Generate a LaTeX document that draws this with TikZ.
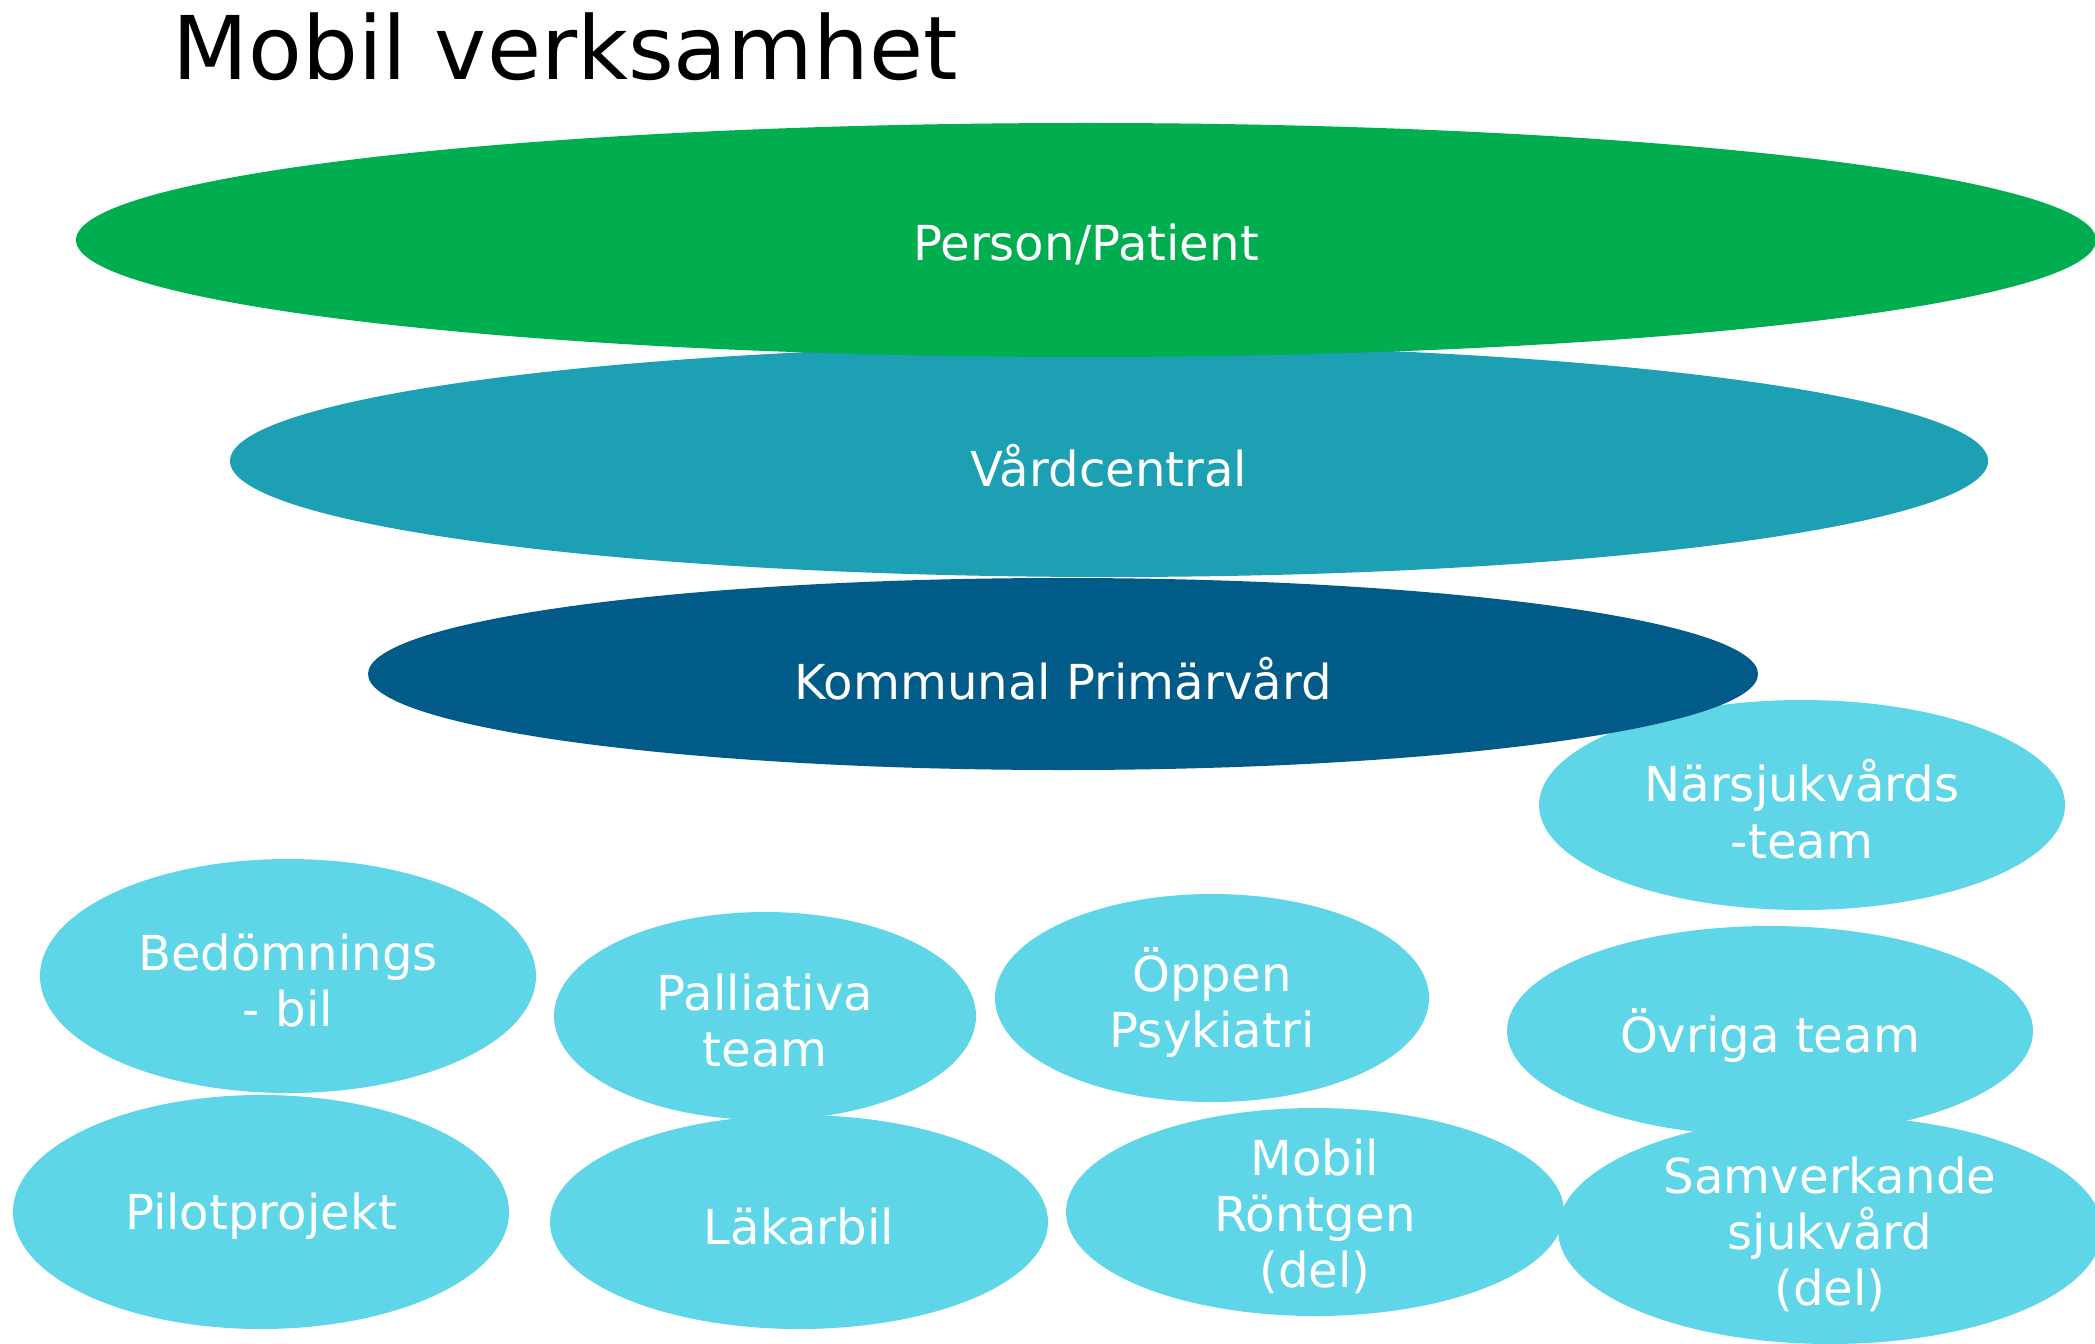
\documentclass[tikz,border=0pt]{standalone}
\usepackage{fontspec}
\setmainfont{DejaVu Sans}
\definecolor{patientgreen}{HTML}{00AE4F}
\definecolor{vcteal}{HTML}{1D9FB4}
\definecolor{kpvblue}{HTML}{005B88}
\definecolor{teamcyan}{HTML}{5ED6E7}
\begin{document}
\begin{tikzpicture}[x=0.01cm, y=-0.01cm,
	txt/.style={text=white, align=center, inner sep=0pt, yshift=-1.2pt, font=\fontsize{13.7}{16}\selectfont},
	team/.style={fill=teamcyan}]
		\useasboundingbox (0,0) rectangle (2095,1343);
		\clip (0,0) rectangle (2095,1343);
		\node[anchor=base west, inner sep=0pt, font=\fontsize{25}{30}\selectfont] (title) at (172,80) {Mobil verksamhet};
		\fill[vcteal] (1109,461) ellipse [x radius=879, y radius=116] node[txt] (vc) {Vårdcentral};
		\fill[patientgreen] (1086,240) ellipse [x radius=1010, y radius=117] node[txt] (patient) {Person/Patient};
		\fill[team] (1802,805) ellipse [x radius=263, y radius=105] node[txt] (nsv) {Närsjukvårds\\-team};
		\fill[kpvblue] (1063,674) ellipse [x radius=695, y radius=96] node[txt] (kpv) {Kommunal Primärvård};
		\fill[team] (288,976) ellipse [x radius=248, y radius=117] node[txt] (bedom) {Bedömnings\\- bil};
		\fill[team] (261,1212) ellipse [x radius=248, y radius=117] node[txt] (pilot) {Pilotprojekt};
		\fill[team] (765,1016) ellipse [x radius=211, y radius=104] node[txt] (palliativ) {Palliativa\\team};
		\fill[team] (799,1222) ellipse [x radius=249, y radius=107] node[txt] (lakarbil) {Läkarbil};
		\fill[team] (1212,998) ellipse [x radius=217, y radius=104] node[txt] (psyk) {Öppen\\Psykiatri};
		\fill[team] (1315,1212) ellipse [x radius=249, y radius=104] node[txt] (rontgen) {Mobil\\Röntgen\\(del)};
		\fill[team] (1770,1031) ellipse [x radius=263, y radius=105] node[txt] (ovriga) {Övriga team};
		\fill[team] (1830,1230) ellipse [x radius=272, y radius=114] node[txt] (samverk) {Samverkande\\sjukvård\\(del)};
	\end{tikzpicture}
\end{document}
